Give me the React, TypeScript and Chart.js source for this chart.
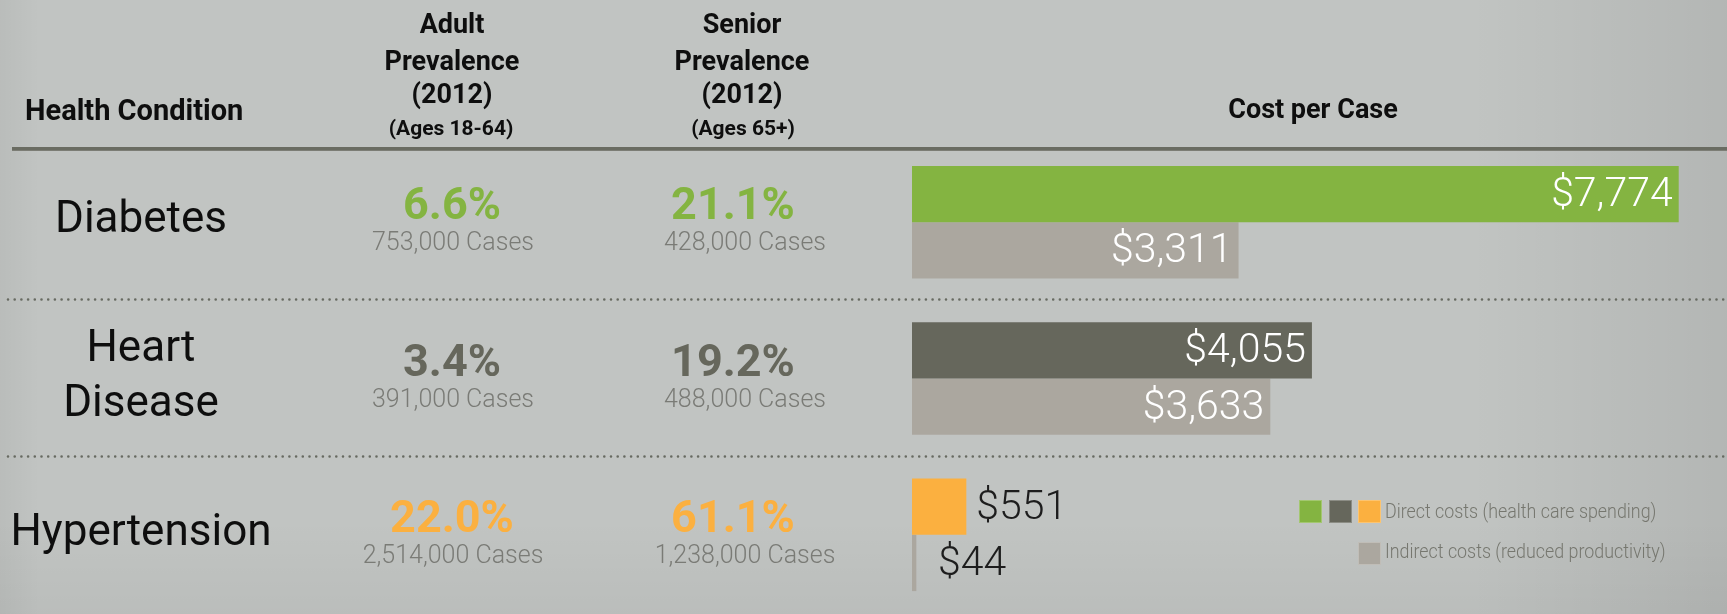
import React, { useEffect, useRef } from "react";
import { Chart, registerables } from "chart.js";

Chart.register(...registerables);

// ---------- data ----------
const conditionNames = ["Diabetes", "Heart Disease", "Hypertension"];
const conditionNameLines = [["Diabetes"], ["Heart", "Disease"], ["Hypertension"]];
const directCosts = [7774, 4055, 551];
const indirectCosts = [3311, 3633, 44];
const adultPrevalence = ["6.6%", "3.4%", "22.0%"];
const adultCases = ["753,000 Cases", "391,000 Cases", "2,514,000 Cases"];
const seniorPrevalence = ["21.1%", "19.2%", "61.1%"];
const seniorCases = ["428,000 Cases", "488,000 Cases", "1,238,000 Cases"];
const adultHeader = ["Adult", "Prevalence", "(2012)"];
const adultSubHeader = "(Ages 18-64)";
const seniorHeader = ["Senior", "Prevalence", "(2012)"];
const seniorSubHeader = "(Ages 65+)";
const conditionHeader = "Health Condition";
const costHeader = "Cost per Case";
const legendLabels = ["Direct costs (health care spending)", "Indirect costs (reduced productivity)"];
const directColors = ["#84b441", "#66675c", "#fbb040"];
const indirectColor = "#aba79f";

// ---------- styles ----------
const W = 1727;
const H = 614;
const FF = "Roboto, 'Noto Sans', 'DejaVu Sans', sans-serif";
const INK = "#0e0e0e";
const CASES_GRAY = "#7a7b76";
const LEGEND_GRAY = "#76776f";
const RULE = "#6a6c62";

function txt(
  ctx: CanvasRenderingContext2D,
  s: string,
  x: number,
  y: number,
  font: string,
  color: string,
  align: CanvasTextAlign = "left",
  sx = 1
) {
  ctx.save();
  ctx.font = font;
  ctx.fillStyle = color;
  ctx.textAlign = align;
  ctx.textBaseline = "alphabetic";
  ctx.translate(x, y);
  ctx.scale(sx, 1);
  ctx.fillText(s, 0, 0);
  ctx.restore();
}

const backgroundPlugin = {
  id: "bgPanel",
  beforeDraw(chart: any) {
    const ctx = chart.ctx as CanvasRenderingContext2D;
    ctx.save();
    ctx.fillStyle = "#c1c4c2";
    ctx.fillRect(0, 0, W, H);
    let g = ctx.createLinearGradient(1470, 0, W, 0);
    g.addColorStop(0, "rgba(0,0,0,0)");
    g.addColorStop(1, "rgba(0,0,0,0.07)");
    ctx.fillStyle = g;
    ctx.fillRect(1470, 0, W - 1470, H);
    g = ctx.createLinearGradient(0, 0, 40, 0);
    g.addColorStop(0, "rgba(0,0,0,0.04)");
    g.addColorStop(1, "rgba(0,0,0,0)");
    ctx.fillStyle = g;
    ctx.fillRect(0, 0, 40, H);
    g = ctx.createLinearGradient(0, 520, 0, H);
    g.addColorStop(0, "rgba(0,0,0,0)");
    g.addColorStop(1, "rgba(0,0,0,0.035)");
    ctx.fillStyle = g;
    ctx.fillRect(0, 520, W, H - 520);
    ctx.restore();
  },
};

const tablePlugin = {
  id: "tableDecor",
  afterDraw(chart: any) {
    const ctx = chart.ctx as CanvasRenderingContext2D;
    const yScale = chart.scales.y;

    // header texts
    const hBold = `bold 27px ${FF}`;
    const hSub = `bold 21px ${FF}`;
    const headBase = [33, 70, 103];
    adultHeader.forEach((s, i) => txt(ctx, s, 452, headBase[i], hBold, INK, "center"));
    txt(ctx, adultSubHeader, 451, 135, hSub, INK, "center");
    seniorHeader.forEach((s, i) => txt(ctx, s, 742, headBase[i], hBold, INK, "center"));
    txt(ctx, seniorSubHeader, 743, 135, hSub, INK, "center");
    txt(ctx, conditionHeader, 25, 120, `bold 29px ${FF}`, INK, "left");
    txt(ctx, costHeader, 1313, 118, `bold 27px ${FF}`, INK, "center");

    // header rule
    ctx.save();
    ctx.fillStyle = RULE;
    ctx.fillRect(12, 147, W - 12, 4);
    ctx.fillStyle = "rgba(255,255,255,0.12)";
    ctx.fillRect(12, 150, W - 12, 1);
    ctx.restore();

    // dotted separators between rows
    ctx.save();
    ctx.strokeStyle = "#676a61";
    ctx.lineWidth = 2.6;
    ctx.lineCap = "round";
    ctx.setLineDash([0, 6.7]);
    for (let i = 0; i < conditionNames.length - 1; i++) {
      const y = Math.round((yScale.getPixelForTick(i) + yScale.getPixelForTick(i + 1)) / 2) - 0.5;
      ctx.beginPath();
      ctx.moveTo(8, y);
      ctx.lineTo(W, y);
      ctx.stroke();
    }
    ctx.restore();

    // row texts
    conditionNames.forEach((_, i) => {
      const c = yScale.getPixelForTick(i);
      const lines = conditionNameLines[i];
      lines.forEach((ln, k) => {
        const by = c + 10 + (k - (lines.length - 1) / 2) * 55;
        txt(ctx, ln, 141, by, `400 44px ${FF}`, INK, "center");
      });
      const pctColor = directColors[i];
      txt(ctx, adultPrevalence[i], 452, c - 3, `bold 45px ${FF}`, pctColor, "center");
      txt(ctx, adultCases[i], 453, c + 28, `300 25px ${FF}`, CASES_GRAY, "center");
      txt(ctx, seniorPrevalence[i], 733, c - 3, `bold 45px ${FF}`, pctColor, "center");
      txt(ctx, seniorCases[i], 745, c + 28, `300 25px ${FF}`, CASES_GRAY, "center");
    });

    // bar value labels
    const labelFont = `300 41px ${FF}`;
    [directCosts, indirectCosts].forEach((vals, d) => {
      const meta = chart.getDatasetMeta(d);
      vals.forEach((v, i) => {
        const el = meta.data[i];
        if (!el) return;
        const label = "$" + v.toLocaleString("en-US");
        ctx.save();
        ctx.font = labelFont;
        const w = ctx.measureText(label).width;
        ctx.restore();
        const len = el.x - el.base;
        if (len > w + 20) {
          txt(ctx, label, el.x - 6, el.y + 12, labelFont, "#ffffff", "right");
        } else {
          const x = Math.max(el.x + 10, el.base + 26);
          txt(ctx, label, x, el.y + 12, labelFont, "#1d1d1d", "left");
        }
      });
    });

    // custom legend
    ctx.save();
    const sq = 23;
    const row1 = 500;
    const row2 = 542;
    const xs = [1299, 1329, 1358];
    directColors.forEach((col, i) => {
      ctx.fillStyle = col;
      ctx.fillRect(xs[i], row1, sq, sq);
      ctx.strokeStyle = "rgba(255,255,255,0.25)";
      ctx.lineWidth = 1;
      ctx.strokeRect(xs[i] + 0.5, row1 + 0.5, sq - 1, sq - 1);
    });
    ctx.fillStyle = indirectColor;
    ctx.fillRect(1358, row2, sq, sq);
    ctx.strokeStyle = "rgba(255,255,255,0.25)";
    ctx.strokeRect(1358.5, row2 + 0.5, sq - 1, sq - 1);
    ctx.restore();
    txt(ctx, legendLabels[0], 1385, 518, `300 21px ${FF}`, LEGEND_GRAY, "left", 0.85);
    txt(ctx, legendLabels[1], 1385, 558, `300 21px ${FF}`, LEGEND_GRAY, "left", 0.85);
  },
};

export default function App() {
  const canvasRef = useRef<HTMLCanvasElement | null>(null);

  useEffect(() => {
    const canvas = canvasRef.current;
    if (!canvas) return;
    document.body.style.margin = "0";
    const chart = new Chart(canvas, {
      type: "bar",
      data: {
        labels: conditionNames,
        datasets: [
          {
            label: legendLabels[0],
            data: directCosts,
            backgroundColor: directColors,
            borderWidth: 0,
            categoryPercentage: 0.72,
            barPercentage: 1,
          },
          {
            label: legendLabels[1],
            data: indirectCosts,
            backgroundColor: indirectColor,
            borderWidth: 0,
            categoryPercentage: 0.72,
            barPercentage: 1,
          },
        ],
      },
      options: {
        indexAxis: "y",
        responsive: false,
        animation: false,
        devicePixelRatio: 1,
        layout: { padding: { left: 912, right: 26, top: 144, bottom: 1 } },
        scales: {
          x: { min: 0, max: 8000, display: false },
          y: { display: false },
        },
        plugins: {
          legend: { display: false },
          tooltip: { enabled: false },
        },
      },
      plugins: [backgroundPlugin, tablePlugin],
    } as any);
    return () => chart.destroy();
  }, []);

  return (
    <div style={{ position: "absolute", left: 0, top: 0, width: W, height: H }}>
      <canvas ref={canvasRef} width={W} height={H} style={{ display: "block" }} />
    </div>
  );
}
